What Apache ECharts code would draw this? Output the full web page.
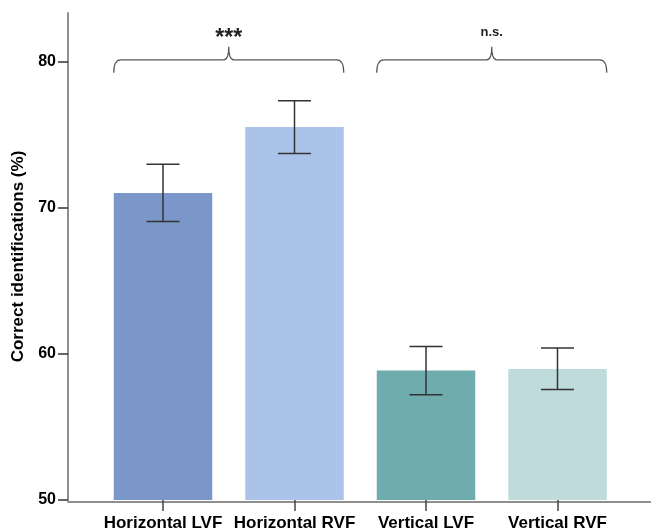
<!DOCTYPE html>
<html>
<head>
<meta charset="utf-8">
<script src="https://cdn.jsdelivr.net/npm/echarts@6/dist/echarts.min.js"></script>
<style>html,body{margin:0;padding:0;background:#fff}#c{width:651px;height:532px}</style>
</head>
<body>
<div id="c"></div>
<script>
// ---- data ----
const categories = ['Horizontal LVF', 'Horizontal RVF', 'Vertical LVF', 'Vertical RVF'];
const means = [71.0, 75.5, 58.85, 58.95];
const errLow = [69.05, 73.7, 57.2, 57.55];
const errHigh = [72.95, 77.3, 60.5, 60.4];
const yTicks = [50, 60, 70, 80];
const braces = [[0, 1, 80.1, '***'], [2, 3, 80.1, 'n.s.']];
const barColors = ['#7b97c9', '#abc3e8', '#6facad', '#c0dbdc'];

// ---- style ----
const BAR_W = 98.5;
const FONT = 'Liberation Sans, Arial, sans-serif';

const chart = echarts.init(document.getElementById('c'), null, {renderer: 'canvas'});

const option = {
  animation: false,
  backgroundColor: '#fff',
  grid: [
    {left: 97.25, right: 27.75, top: 13, bottom: 30},
    {left: 68, right: 0, top: 13, bottom: 30}
  ],
  xAxis: [
    {
      type: 'category', gridIndex: 0, data: categories,
      axisLine: {show: false},
      axisTick: {show: true, alignWithLabel: true, length: 11, lineStyle: {color: '#444', width: 1.5}},
      axisLabel: {interval: 0, margin: 15, color: '#000', fontFamily: FONT, fontWeight: 'bold', fontSize: 17}
    },
    {
      type: 'value', gridIndex: 1, min: 0, max: 1,
      axisLine: {show: true, onZero: false, lineStyle: {color: '#8f8f8f', width: 2}},
      axisTick: {show: false}, axisLabel: {show: false}, splitLine: {show: false}
    }
  ],
  yAxis: [
    {
      type: 'value', gridIndex: 0, min: 50, max: 83.3, offset: 29.25,
      name: 'Correct identifications (%)', nameLocation: 'middle', nameGap: 38,
      nameTextStyle: {color: '#000', fontFamily: FONT, fontWeight: 'bold', fontSize: 17},
      axisLine: {show: true, lineStyle: {color: '#8f8f8f', width: 2}},
      axisTick: {show: true, length: 10, customValues: yTicks, lineStyle: {color: '#333', width: 1.5}},
      axisLabel: {customValues: yTicks, margin: 12, color: '#000', fontFamily: FONT, fontWeight: 'bold', fontSize: 16},
      splitLine: {show: false}
    },
    {type: 'value', gridIndex: 1, show: false, min: 0, max: 1}
  ],
  series: [
    {
      type: 'bar', xAxisIndex: 0, yAxisIndex: 0, barWidth: BAR_W,
      data: means.map((v, i) => ({value: v, itemStyle: {color: barColors[i]}}))
    },
    {
      type: 'custom', xAxisIndex: 0, yAxisIndex: 0, z: 5,
      data: categories.map((c, i) => [i, errLow[i], errHigh[i]]),
      renderItem: function (params, api) {
        const lo = api.coord([api.value(0), api.value(1)]);
        const hi = api.coord([api.value(0), api.value(2)]);
        const hw = 16.5;
        const st = {stroke: '#333', lineWidth: 1.5};
        return {type: 'group', children: [
          {type: 'line', shape: {x1: lo[0], y1: lo[1], x2: hi[0], y2: hi[1]}, style: st},
          {type: 'line', shape: {x1: hi[0] - hw, y1: hi[1], x2: hi[0] + hw, y2: hi[1]}, style: st},
          {type: 'line', shape: {x1: lo[0] - hw, y1: lo[1], x2: lo[0] + hw, y2: lo[1]}, style: st}
        ]};
      }
    },
    {
      type: 'custom', xAxisIndex: 0, yAxisIndex: 0, z: 5, clip: false,
      data: braces,
      renderItem: function (params, api) {
        const p0 = api.coord([api.value(0), api.value(2)]);
        const p1 = api.coord([api.value(1), api.value(2)]);
        const hb = BAR_W / 2;
        const x0 = p0[0] - hb, x1 = p1[0] + hb, y = p0[1], xm = (x0 + x1) / 2;
        const drop = 13, peak = 13, r = 7, pr = 5;
        const d = 'M' + x0 + ',' + (y + drop) +
          ' Q' + x0 + ',' + y + ' ' + (x0 + r) + ',' + y +
          ' L' + (xm - pr) + ',' + y +
          ' Q' + xm + ',' + y + ' ' + xm + ',' + (y - peak) +
          ' Q' + xm + ',' + y + ' ' + (xm + pr) + ',' + y +
          ' L' + (x1 - r) + ',' + y +
          ' Q' + x1 + ',' + y + ' ' + x1 + ',' + (y + drop);
        const label = braces[params.dataIndex][3];
        const isStar = label === '***';
        return {type: 'group', children: [
          {type: 'path', shape: {pathData: d}, style: {fill: 'none', stroke: '#555', lineWidth: 1.2}},
          {type: 'text', style: {
            text: label, x: xm, y: isStar ? y - peak + 3 : y - peak - 8,
            align: 'center', verticalAlign: 'bottom',
            fill: '#222', font: (isStar ? 'bold 23px ' : 'bold 13px ') + FONT
          }}
        ]};
      }
    }
  ]
};
chart.setOption(option);
</script>
</body>
</html>
